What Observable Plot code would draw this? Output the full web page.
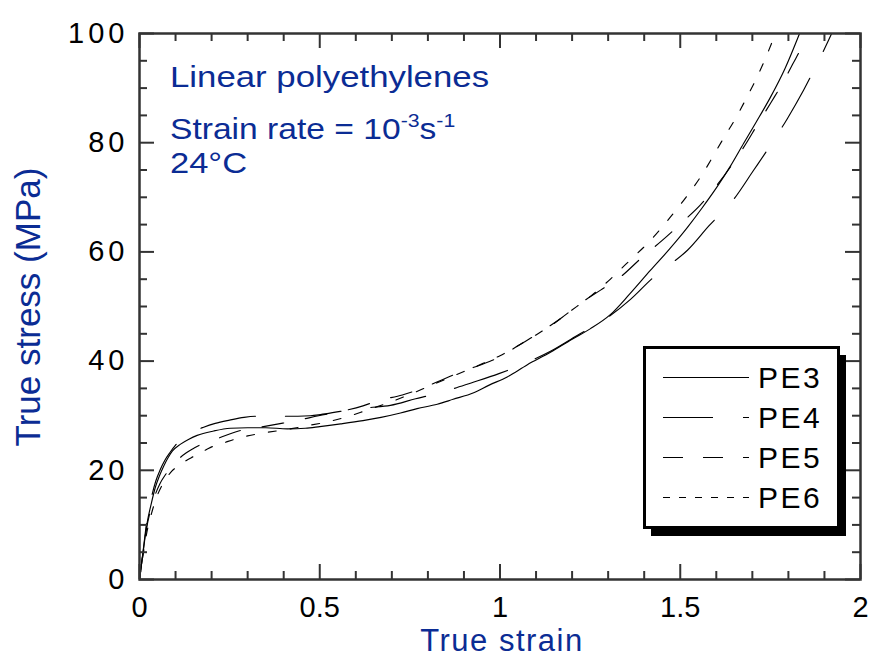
<!DOCTYPE html>
<html><head><meta charset="utf-8">
<script src="https://cdn.jsdelivr.net/npm/d3@7"></script>
<script src="https://cdn.jsdelivr.net/npm/@observablehq/plot@0.6"></script>
<style>
body{margin:0;background:#fff;}
#chart{position:relative;width:879px;height:658px;}
</style></head><body><div id="chart"></div>
<script>
// ---- data ----
const seriesNames = ["PE3", "PE4", "PE5", "PE6"];

const pe3Strain = [0,0.01,0.021,0.033,0.044,0.056,0.068,0.08,0.091,0.114,0.137,0.16,0.206,0.252,0.3,0.35,0.41,0.46,0.5,0.558,0.62,0.67,0.724,0.77,0.826,0.87,0.927,0.97,1.02,1.075,1.14,1.2,1.25,1.306,1.36,1.417,1.47,1.52,1.56,1.603,1.64,1.676,1.71,1.75,1.79,1.831];
const pe3Stress = [0,5,10.3,14,16.9,19.1,20.9,22.4,23.5,24.8,25.7,26.4,27.2,27.7,27.8,27.8,27.6,27.7,28.0,28.5,29.1,29.7,30.5,31.3,32.1,33.0,34.2,35.6,37.1,39.3,41.6,44.0,45.9,48.5,52.3,56.6,60.5,64.5,68.0,72.0,75.8,79.9,83.7,88.3,93.5,100];

const pe4Strain = [0,0.01,0.02,0.033,0.045,0.058,0.07,0.085,0.1,0.12,0.14,0.178,0.21,0.25,0.29,0.326,0.405,0.474,0.502,0.557,0.608,0.641,0.696,0.766,0.81,0.854,0.92,0.997,1.066,1.14,1.214,1.297,1.362,1.427,1.47,1.52,1.58,1.648,1.703,1.75,1.797,1.842,1.88,1.911,1.92];
const pe4Stress = [0,5.2,10.5,15,18,20.2,21.8,23.3,24.6,25.9,26.8,27.9,28.6,29.2,29.7,29.9,29.9,30.0,30.2,30.8,31.3,31.5,31.9,33.1,33.8,34.6,36.0,37.7,39.5,41.8,44.7,47.9,51.3,55.4,57.6,60.3,64.8,69.6,74.9,79.5,84.4,89.6,94.5,98.7,100];

const pe5Strain = [0,0.01,0.02,0.032,0.044,0.057,0.07,0.091,0.109,0.13,0.15,0.169,0.22,0.275,0.336,0.386,0.442,0.497,0.56,0.62,0.664,0.729,0.779,0.84,0.89,0.946,1.006,1.052,1.112,1.172,1.228,1.279,1.334,1.394,1.45,1.505,1.556,1.598,1.644,1.683,1.713,1.753,1.783,1.812,1.84,1.852];
const pe5Stress = [0,5,9.5,13,15.6,17.6,19,20.8,22.1,23.2,24.0,24.7,25.9,27.2,27.9,28.5,29.2,30.0,30.8,31.8,32.8,33.8,34.9,36.6,38.0,39.3,41.0,42.9,45.3,48.0,50.8,53.0,55.4,59.0,62.1,65.4,68.6,71.9,76.0,79.9,83.2,87.5,90.8,94.4,98.0,100];

const pe6Strain = [0,0.01,0.02,0.035,0.05,0.062,0.075,0.089,0.11,0.13,0.149,0.186,0.204,0.237,0.26,0.3,0.35,0.41,0.46,0.516,0.576,0.63,0.7,0.75,0.8,0.85,0.9,0.95,1.0,1.05,1.1,1.15,1.19,1.25,1.301,1.35,1.417,1.473,1.509,1.556,1.62,1.653,1.69,1.713,1.736,1.764];
const pe6Stress = [0,4.5,8.5,12.5,15.5,17.2,18.6,19.8,20.9,21.8,22.5,23.8,24.4,25.1,25.6,26.3,26.9,27.5,28.1,28.8,29.8,31.0,32.6,33.9,35.3,36.7,38.1,39.5,41.0,42.8,44.8,46.9,48.9,51.8,54.7,57.8,62.1,66.4,69.4,73.7,80.8,84.4,89.0,92.0,95.4,100];

const xMajorTicks = [0, 0.5, 1, 1.5, 2];
const xMinorTicks = [0.1,0.2,0.3,0.4,0.6,0.7,0.8,0.9,1.1,1.2,1.3,1.4,1.6,1.7,1.8,1.9];
const yMajorTicks = [0, 20, 40, 60, 80, 100];
const yMinorTicks = [5,10,15,25,30,35,45,50,55,65,70,75,85,90,95];

const xTitle = "True strain";
const yTitle = "True stress (MPa)";
const noteTitle = "Linear polyethylenes";
const noteRate = ["Strain rate = 10", "-3", "s", "-1"];
const noteTemp = "24°C";

// ---- styles ----
const curveDash = [null, "56,30", "22,22", "8,14"];
const legendDash = [null, "50,30", "20,20", "7,9"];
const blue = "#0b2c94";
const font = "'Liberation Sans', Arial, Helvetica, sans-serif";

const strains = [pe3Strain, pe4Strain, pe5Strain, pe6Strain];
const stresses = [pe3Stress, pe4Stress, pe5Stress, pe6Stress];
const rows = seriesNames.flatMap((name, i) =>
  strains[i].map((x, j) => ({series: name, strain: x, stress: stresses[i][j]})));

const W = 879, H = 658, ML = 139, MR = 19, MT = 33, MB = 79;
const xPerPx = 2 / (W - ML - MR), yPerPx = 100 / (H - MT - MB);
const minorLen = 8, majorLen = 15;
const tickStyle = {stroke: "#333", strokeWidth: 2};

function tickMarks(ticks, len) {
  return [
    Plot.ruleX(ticks, {x: d => d, y1: 0, y2: len * yPerPx, ...tickStyle}),
    Plot.ruleX(ticks, {x: d => d, y1: 100 - len * yPerPx, y2: 100, ...tickStyle})
  ];
}
function tickMarksY(ticks, len) {
  return [
    Plot.ruleY(ticks, {y: d => d, x1: 0, x2: len * xPerPx, ...tickStyle}),
    Plot.ruleY(ticks, {y: d => d, x1: 2 - len * xPerPx, x2: 2, ...tickStyle})
  ];
}

const svgNode = Plot.plot({
  width: W, height: H,
  marginLeft: ML, marginRight: MR, marginTop: MT, marginBottom: MB,
  x: {domain: [0, 2], label: null},
  y: {domain: [0, 100], label: null},
  style: {fontFamily: font, background: "white", color: "black"},
  marks: [
    ...seriesNames.map((name, i) => Plot.line(rows.filter(d => d.series === name), {
      x: "strain", y: "stress", stroke: "black", strokeWidth: 1.15,
      strokeDasharray: curveDash[i], curve: "monotone-x", clip: true
    })),
    ...tickMarks(xMinorTicks, minorLen),
    ...tickMarks(xMajorTicks, majorLen),
    ...tickMarksY(yMinorTicks, minorLen),
    ...tickMarksY(yMajorTicks, majorLen),
    Plot.axisX(xMajorTicks, {anchor: "bottom", tickSize: 0, tickPadding: 17, fontSize: 29, label: null, tickFormat: d => String(d), fill: "black"}),
    Plot.axisY(yMajorTicks, {anchor: "left", tickSize: 0, tickPadding: 11, fontSize: 29, label: null, tickFormat: d => String(d), fill: "black"}),
    Plot.frame({stroke: "#333", strokeWidth: 2.5})
  ]
});

document.getElementById("chart").appendChild(svgNode);
const svg = d3.select(svgNode);
svg.selectAll('g[aria-label="y-axis tick label"] text').style("letter-spacing", "4px");

// axis titles
svg.append("text").attr("x", 502).attr("y", 651).attr("text-anchor", "middle")
  .attr("font-family", font).attr("font-size", 31).style("letter-spacing", "1.5px")
  .attr("fill", blue).text(xTitle);
svg.append("text").attr("transform", "translate(40,307) rotate(-90)").attr("text-anchor", "middle")
  .attr("font-family", font).attr("font-size", 35).attr("fill", blue).text(yTitle);

// annotation
const notes = svg.append("g").attr("font-family", font).attr("font-size", 30)
  .attr("fill", blue).attr("text-anchor", "start");
notes.append("text").attr("transform", "translate(170,87) scale(1.16,1)").text(noteTitle);
const rate = notes.append("text").attr("transform", "translate(170,139) scale(1.12,1)");
rate.append("tspan").text(noteRate[0]);
rate.append("tspan").attr("font-size", 19).attr("dy", -12).text(noteRate[1]);
rate.append("tspan").attr("font-size", 30).attr("dy", 12).text(noteRate[2]);
rate.append("tspan").attr("font-size", 19).attr("dy", -12).text(noteRate[3]);
notes.append("text").attr("transform", "translate(170,173) scale(1.15,1)").text(noteTemp);

// legend
const lg = svg.append("g").attr("font-family", font).attr("text-anchor", "start");
lg.append("rect").attr("x", 651).attr("y", 355).attr("width", 195).attr("height", 181).attr("fill", "#000");
lg.append("rect").attr("x", 644.5).attr("y", 347.5).attr("width", 194).attr("height", 180)
  .attr("fill", "#fff").attr("stroke", "#000").attr("stroke-width", 3);
seriesNames.forEach((name, i) => {
  const y = 377.5 + i * 40;
  lg.append("line").attr("x1", 663).attr("x2", 749).attr("y1", y).attr("y2", y)
    .attr("stroke", "black").attr("stroke-width", 1.15)
    .attr("stroke-dasharray", legendDash[i]);
  lg.append("text").attr("x", 758).attr("y", y + 10.7).attr("font-size", 30)
    .style("letter-spacing", "2.5px").attr("fill", "black").text(name);
});
</script></body></html>
